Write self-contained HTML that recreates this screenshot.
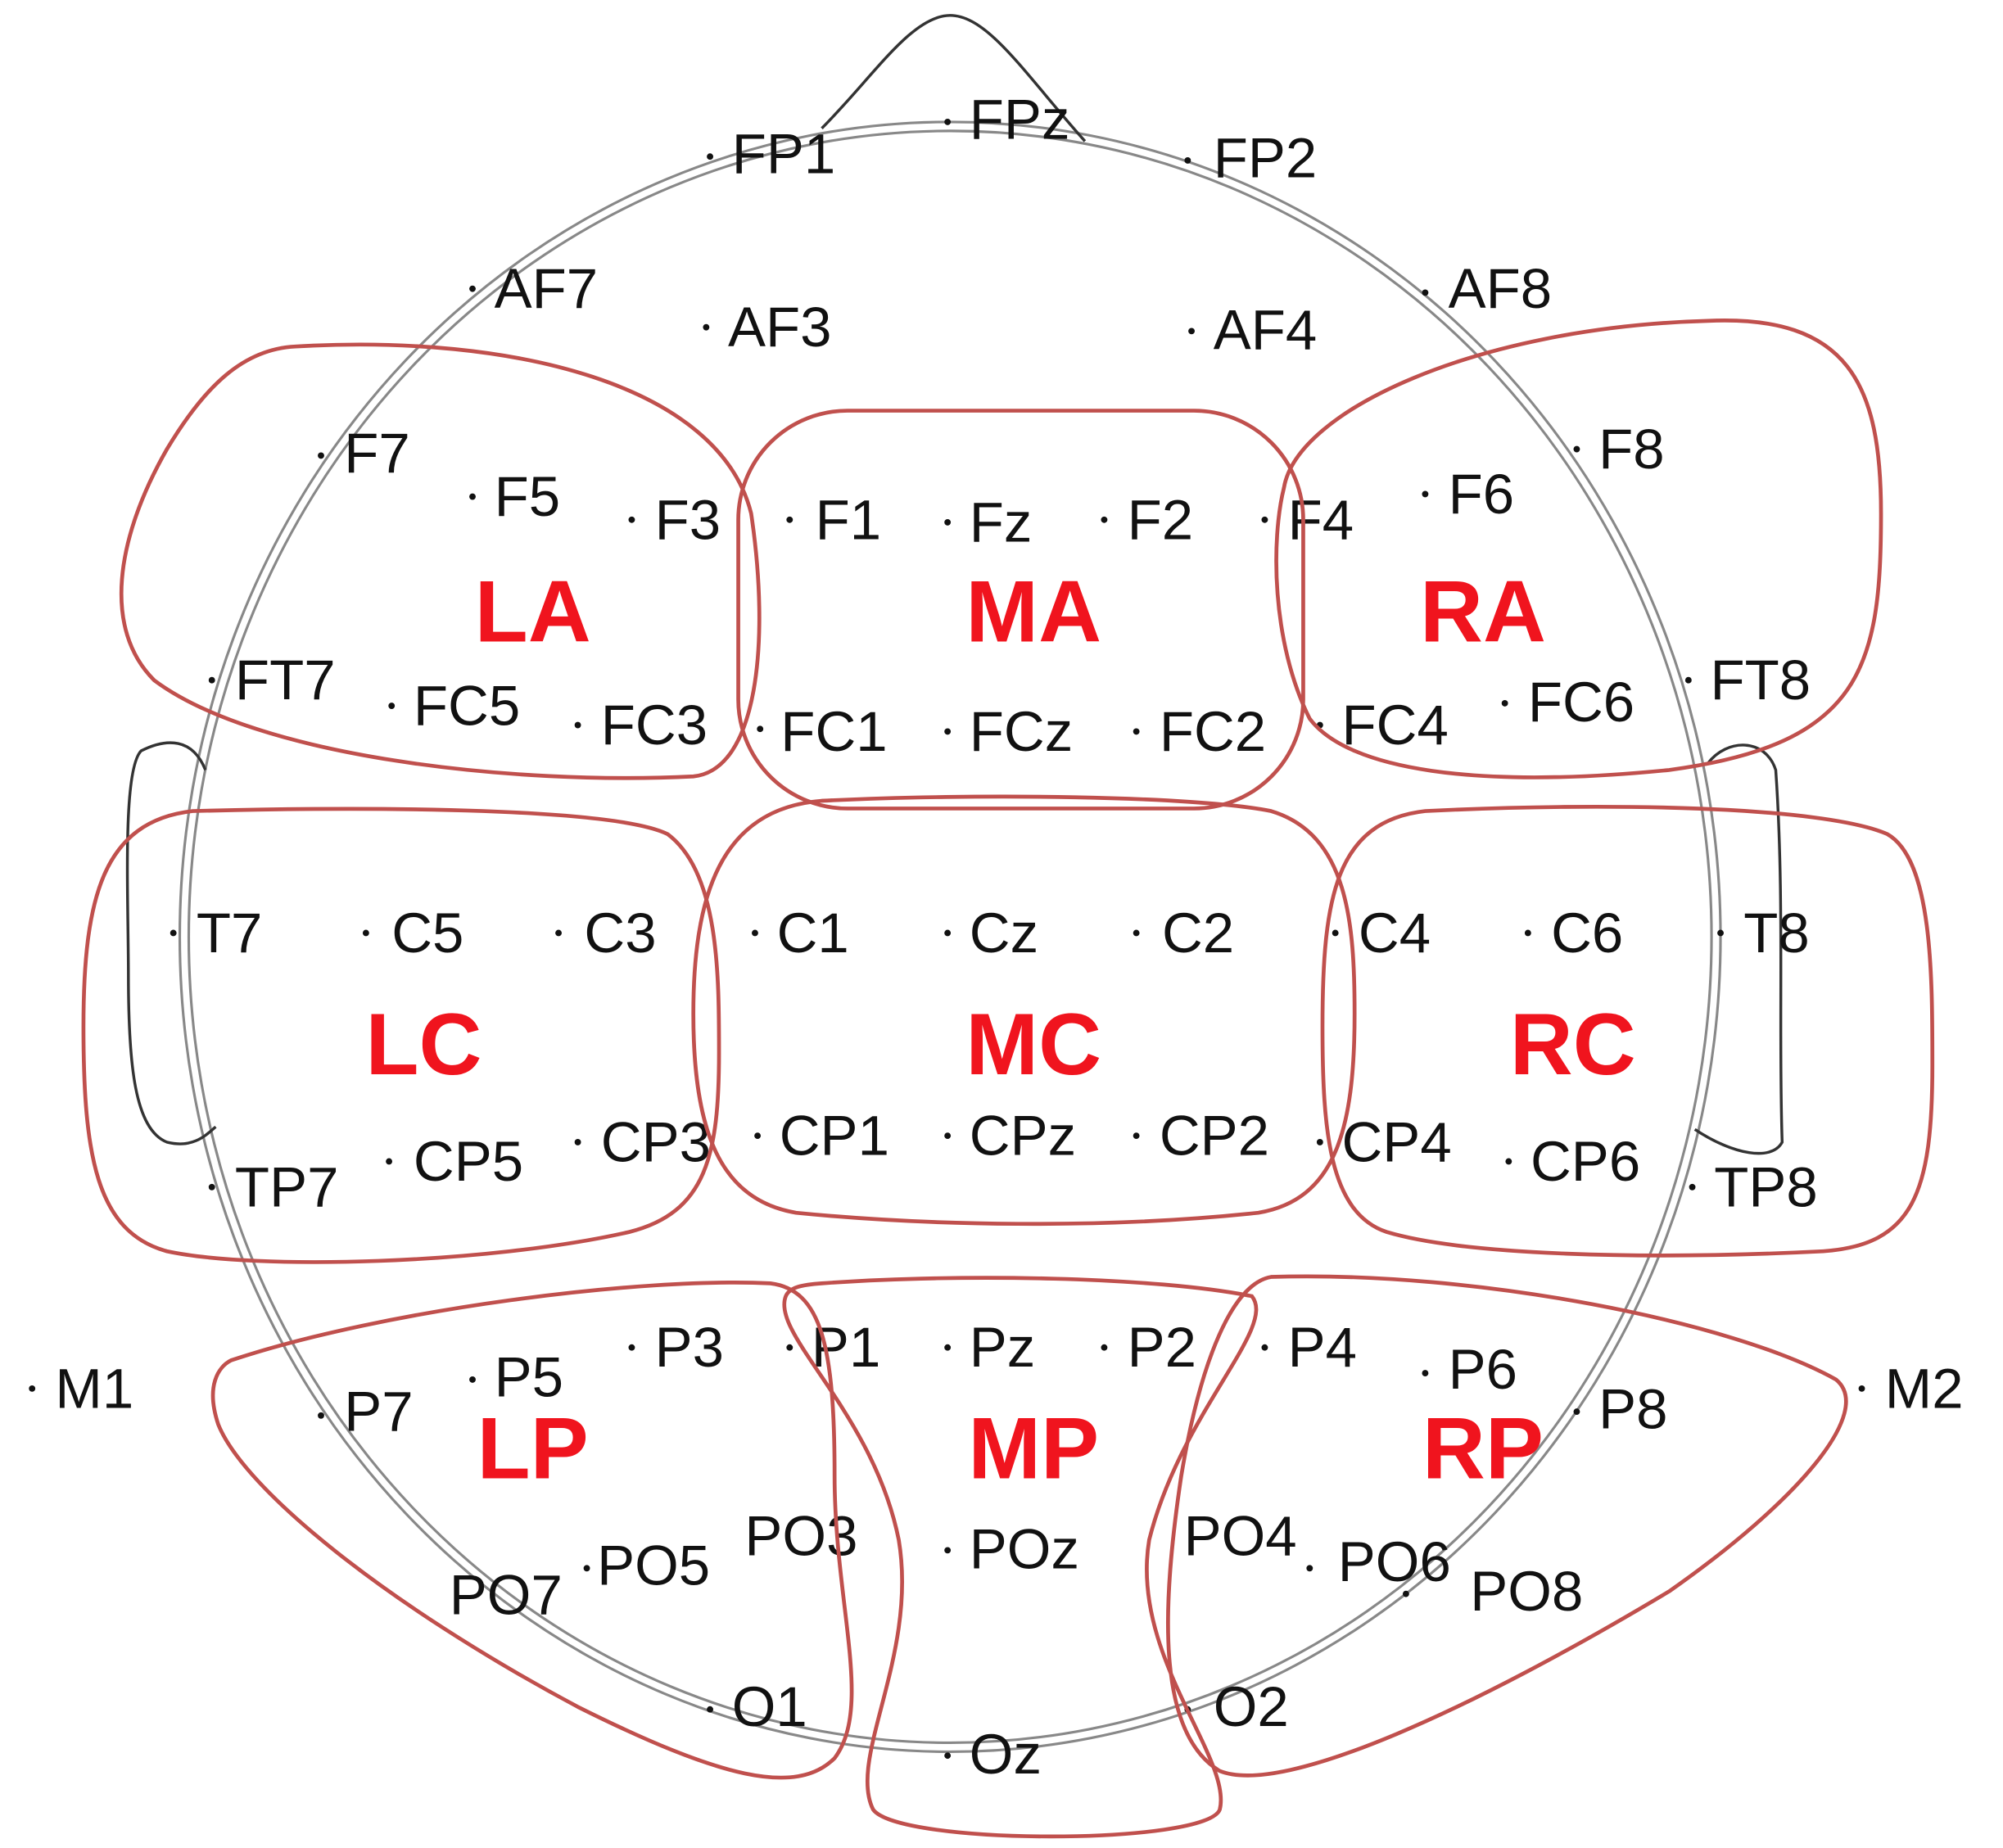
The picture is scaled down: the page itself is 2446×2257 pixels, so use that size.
<!DOCTYPE html>
<html><head><meta charset="utf-8"><style>
html,body{margin:0;padding:0;background:#fff;}
svg{display:block;}
.t{font-family:"Liberation Sans",sans-serif;font-size:44px;fill:#111;}
.r{font-family:"Liberation Sans",sans-serif;font-size:68px;font-weight:bold;fill:#f0141e;text-anchor:middle;}
.o{fill:none;stroke:#c0504d;stroke-width:3;}
</style></head><body>
<svg width="2446" height="2257" viewBox="0 0 1560 1440" preserveAspectRatio="none" xmlns="http://www.w3.org/2000/svg">
<rect width="1560" height="1440" fill="#fff"/>
<g fill="none" stroke="#888" stroke-width="2">
<ellipse cx="740" cy="730" rx="600" ry="635"/>
<ellipse cx="740" cy="730" rx="593" ry="628"/>
</g>
<g fill="none" stroke="#333" stroke-width="2.2">
<path d="M640,100 C680,60 710,12 740,12 C770,12 800,60 845,110"/>
<path d="M160,600 C150,575 130,575 110,585 C95,600 100,700 100,760 C100,830 105,880 130,890 C150,895 160,885 168,878"/>
<path d="M1330,595 C1345,575 1375,575 1383,600 C1390,700 1385,800 1388,890 C1380,905 1350,900 1320,880"/>
</g>
<g class="t">
<text x="570" y="135">FP1</text><text x="755" y="108">FPz</text><text x="945" y="138">FP2</text>
<text x="385" y="240">AF7</text><text x="567" y="270">AF3</text><text x="945" y="272">AF4</text><text x="1128" y="240">AF8</text>
<text x="268" y="368">F7</text><text x="385" y="402">F5</text><text x="510" y="420">F3</text><text x="635" y="420">F1</text><text x="755" y="422">Fz</text><text x="878" y="420">F2</text><text x="1003" y="420">F4</text><text x="1128" y="400">F6</text><text x="1245" y="365">F8</text>
<text x="183" y="545">FT7</text><text x="322" y="565">FC5</text><text x="468" y="580">FC3</text><text x="608" y="585">FC1</text><text x="755" y="585">FCz</text><text x="903" y="585">FC2</text><text x="1045" y="580">FC4</text><text x="1190" y="562">FC6</text><text x="1332" y="545">FT8</text>
<text x="153" y="742">T7</text><text x="305" y="742">C5</text><text x="455" y="742">C3</text><text x="605" y="742">C1</text><text x="755" y="742">Cz</text><text x="905" y="742">C2</text><text x="1058" y="742">C4</text><text x="1208" y="742">C6</text><text x="1358" y="742">T8</text>
<text x="183" y="940">TP7</text><text x="322" y="920">CP5</text><text x="468" y="905">CP3</text><text x="607" y="900">CP1</text><text x="755" y="900">CPz</text><text x="903" y="900">CP2</text><text x="1045" y="905">CP4</text><text x="1192" y="920">CP6</text><text x="1335" y="940">TP8</text>
<text x="43" y="1097">M1</text><text x="268" y="1115">P7</text><text x="385" y="1088">P5</text><text x="510" y="1065">P3</text><text x="632" y="1065">P1</text><text x="755" y="1065">Pz</text><text x="878" y="1065">P2</text><text x="1003" y="1065">P4</text><text x="1128" y="1082">P6</text><text x="1245" y="1113">P8</text><text x="1468" y="1097">M2</text>
<text x="350" y="1258">PO7</text><text x="465" y="1235">PO5</text><text x="580" y="1212">PO3</text><text x="755" y="1222">POz</text><text x="922" y="1212">PO4</text><text x="1042" y="1232">PO6</text><text x="1145" y="1255">PO8</text>
<text x="570" y="1345">O1</text><text x="755" y="1382">Oz</text><text x="945" y="1345">O2</text>
</g>
<g fill="#111">
<circle cx="553" cy="122" r="2.5"/><circle cx="738" cy="95" r="2.5"/><circle cx="925" cy="125" r="2.5"/>
<circle cx="368" cy="225" r="2.5"/><circle cx="550" cy="255" r="2.5"/><circle cx="928" cy="258" r="2.5"/><circle cx="1110" cy="228" r="2.5"/>
<circle cx="250" cy="355" r="2.5"/><circle cx="368" cy="387" r="2.5"/><circle cx="492" cy="405" r="2.5"/><circle cx="615" cy="405" r="2.5"/><circle cx="738" cy="407" r="2.5"/><circle cx="860" cy="405" r="2.5"/><circle cx="985" cy="405" r="2.5"/><circle cx="1110" cy="385" r="2.5"/><circle cx="1228" cy="350" r="2.5"/>
<circle cx="165" cy="530" r="2.5"/><circle cx="305" cy="550" r="2.5"/><circle cx="450" cy="565" r="2.5"/><circle cx="592" cy="568" r="2.5"/><circle cx="738" cy="570" r="2.5"/><circle cx="885" cy="570" r="2.5"/><circle cx="1028" cy="565" r="2.5"/><circle cx="1172" cy="548" r="2.5"/><circle cx="1315" cy="530" r="2.5"/>
<circle cx="135" cy="727" r="2.5"/><circle cx="285" cy="727" r="2.5"/><circle cx="435" cy="727" r="2.5"/><circle cx="588" cy="727" r="2.5"/><circle cx="738" cy="727" r="2.5"/><circle cx="885" cy="727" r="2.5"/><circle cx="1040" cy="727" r="2.5"/><circle cx="1190" cy="727" r="2.5"/><circle cx="1340" cy="727" r="2.5"/>
<circle cx="165" cy="925" r="2.5"/><circle cx="303" cy="905" r="2.5"/><circle cx="450" cy="890" r="2.5"/><circle cx="590" cy="885" r="2.5"/><circle cx="738" cy="885" r="2.5"/><circle cx="885" cy="885" r="2.5"/><circle cx="1028" cy="890" r="2.5"/><circle cx="1175" cy="905" r="2.5"/><circle cx="1318" cy="925" r="2.5"/>
<circle cx="25" cy="1082" r="2.5"/><circle cx="250" cy="1103" r="2.5"/><circle cx="368" cy="1075" r="2.5"/><circle cx="492" cy="1050" r="2.5"/><circle cx="615" cy="1050" r="2.5"/><circle cx="738" cy="1050" r="2.5"/><circle cx="860" cy="1050" r="2.5"/><circle cx="985" cy="1050" r="2.5"/><circle cx="1110" cy="1070" r="2.5"/><circle cx="1228" cy="1100" r="2.5"/><circle cx="1450" cy="1082" r="2.5"/>
<circle cx="457" cy="1222" r="2.5"/><circle cx="738" cy="1208" r="2.5"/><circle cx="1020" cy="1222" r="2.5"/><circle cx="1095" cy="1242" r="2.5"/>
<circle cx="553" cy="1332" r="2.5"/><circle cx="738" cy="1368" r="2.5"/><circle cx="925" cy="1332" r="2.5"/>
</g>
<g class="o">
<path d="M230,270 C400,260 560,300 585,400 C600,500 590,600 540,605 C400,612 200,590 120,530 C80,490 90,420 130,350 C160,300 190,272 230,270 Z"/>
<rect x="575" y="320" width="440" height="310" rx="85" ry="85"/>
<path d="M1000,380 C1010,320 1150,255 1330,250 C1440,245 1465,300 1465,400 C1465,520 1450,580 1300,600 C1150,615 1050,600 1020,560 C990,500 990,420 1000,380 Z"/>
<path d="M150,632 C300,628 480,630 520,650 C560,680 560,760 560,820 C560,900 550,945 490,960 C380,985 200,990 130,975 C75,960 65,900 65,800 C65,700 80,640 150,632 Z"/>
<path d="M640,624 C760,618 930,620 990,632 C1050,650 1055,720 1055,790 C1055,880 1040,935 980,945 C860,958 720,955 620,945 C560,935 540,880 540,790 C540,700 560,630 640,624 Z"/>
<path d="M1110,632 C1250,625 1420,628 1470,650 C1505,670 1505,760 1505,830 C1505,930 1490,970 1420,975 C1280,982 1140,978 1080,960 C1035,945 1030,880 1030,800 C1030,700 1040,640 1110,632 Z"/>
<path d="M180,1060 C300,1020 500,995 600,1000 C640,1005 650,1050 650,1150 C650,1250 680,1330 650,1370 C620,1400 560,1385 450,1330 C300,1250 190,1160 170,1110 C160,1080 170,1065 180,1060 Z"/>
<path d="M640,1000 C750,992 900,995 975,1010 C995,1035 920,1100 895,1200 C880,1290 960,1370 950,1410 C940,1438 700,1438 680,1410 C660,1370 715,1290 700,1200 C680,1100 600,1040 612,1010 C615,1003 625,1001 640,1000 Z"/>
<path d="M990,995 C1150,990 1350,1030 1430,1075 C1460,1100 1400,1170 1300,1240 C1150,1330 1000,1400 950,1380 C900,1350 905,1250 920,1150 C935,1060 960,1000 990,995 Z"/>
</g>
<g class="r">
<text x="415" y="500">LA</text><text x="805" y="500">MA</text><text x="1155" y="500">RA</text>
<text x="330" y="837">LC</text><text x="805" y="837">MC</text><text x="1225" y="837">RC</text>
<text x="415" y="1152">LP</text><text x="805" y="1152">MP</text><text x="1155" y="1152">RP</text>
</g>
</svg>
</body></html>
